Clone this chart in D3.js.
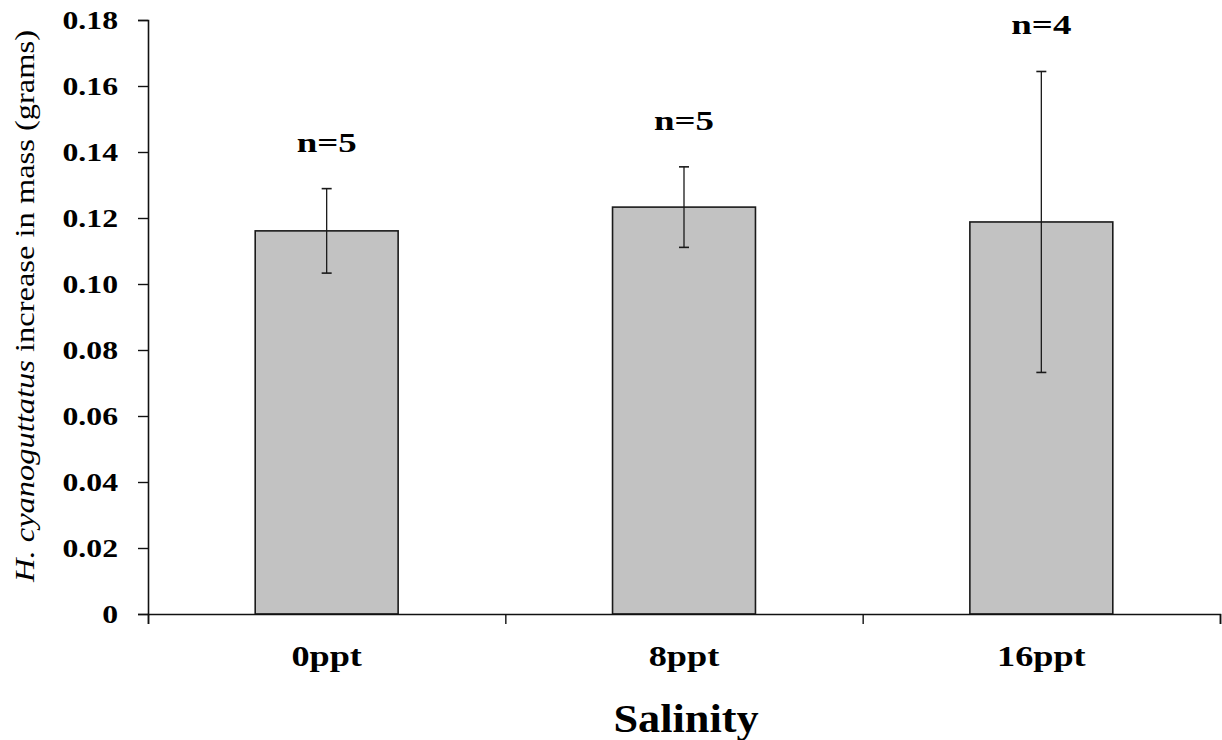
<!DOCTYPE html>
<html>
<head>
<meta charset="utf-8">
<script src="https://cdn.jsdelivr.net/npm/d3@7"></script>
<style>
  body { margin: 0; background: #fff; }
  svg text { font-family: "Liberation Serif", "Times New Roman", serif; }
</style>
</head>
<body>
<div id="chart"></div>
<script>
// data
var categories = ["0ppt", "8ppt", "16ppt"];
var means = [0.1161, 0.1233, 0.1188];
var errors = [0.0128, 0.0122, 0.0456];
var nLabels = ["n=5", "n=5", "n=4"];
var yTicks = [0, 0.02, 0.04, 0.06, 0.08, 0.10, 0.12, 0.14, 0.16, 0.18];

var svgWidth = 1222;
var svgHeight = 740;

var margin = { top: 20, right: 2, bottom: 126, left: 148 };
var width = svgWidth - margin.left - margin.right;
var height = svgHeight - margin.top - margin.bottom;

// the scanned Times in the original is wider than Liberation Serif,
// so scale the glyphs horizontally around the text anchor
function widen(sel, factor) {
  sel.each(function() {
    var t = d3.select(this);
    var x = +t.attr("x") || 0;
    t.attr("x", 0)
      .attr("transform", `translate(${x},0) scale(${factor},1)`);
  });
}

var svg = d3.select("#chart")
  .append("svg")
  .attr("width", svgWidth)
  .attr("height", svgHeight);

var chartGroup = svg.append("g")
  .attr("transform", `translate(${margin.left}, ${margin.top})`);

// scales
var xBand = d3.scaleBand()
  .domain(categories)
  .range([0, width])
  .padding(0);

var xEdges = d3.scaleLinear()
  .domain([0, categories.length])
  .range([0, width]);

var yScale = d3.scaleLinear()
  .domain([0, 0.18])
  .range([height, 0]);

var barWidth = xBand.bandwidth() * 0.4;

// bars
chartGroup.selectAll(".bar")
  .data(means)
  .enter()
  .append("rect")
  .attr("class", "bar")
  .attr("x", (d, i) => xBand(categories[i]) + xBand.bandwidth() / 2 - barWidth / 2)
  .attr("y", d => yScale(d))
  .attr("width", barWidth)
  .attr("height", d => height - yScale(d))
  .attr("fill", "#c2c2c2")
  .attr("stroke", "#1a1a1a")
  .attr("stroke-width", 1.6);

// error bars
var errGroup = chartGroup.selectAll(".err")
  .data(means)
  .enter()
  .append("g")
  .attr("class", "err")
  .attr("transform", (d, i) => `translate(${xBand(categories[i]) + xBand.bandwidth() / 2}, 0)`);

errGroup.append("line")
  .attr("x1", 0).attr("x2", 0)
  .attr("y1", (d, i) => yScale(d + errors[i]))
  .attr("y2", (d, i) => yScale(d - errors[i]))
  .attr("stroke", "#1a1a1a")
  .attr("stroke-width", 1.3);

errGroup.selectAll(".cap")
  .data((d, i) => [d + errors[i], d - errors[i]])
  .enter()
  .append("line")
  .attr("x1", -5).attr("x2", 5)
  .attr("y1", d => yScale(d))
  .attr("y2", d => yScale(d))
  .attr("stroke", "#1a1a1a")
  .attr("stroke-width", 1.6);

// n labels above the error bars
chartGroup.selectAll(".nlab")
  .data(means)
  .enter()
  .append("text")
  .attr("class", "nlab")
  .attr("x", (d, i) => xBand(categories[i]) + xBand.bandwidth() / 2)
  .attr("y", (d, i) => yScale(d + errors[i]) - 37)
  .attr("text-anchor", "middle")
  .attr("font-size", "28px")
  .attr("font-weight", "bold")
  .text((d, i) => nLabels[i])
  .call(widen, 1.32);

// y axis
var leftAxis = d3.axisLeft(yScale)
  .tickValues(yTicks)
  .tickSize(10)
  .tickPadding(20)
  .tickFormat(d => d === 0 ? "0" : d3.format(".2f")(d));

var yAxisG = chartGroup.append("g").call(leftAxis);
yAxisG.select(".domain").attr("stroke", "#111").attr("stroke-width", 1.6);
yAxisG.selectAll(".tick line").attr("stroke", "#111").attr("stroke-width", 1.4);
yAxisG.selectAll(".tick text")
  .attr("font-size", "26px")
  .attr("font-weight", "bold")
  .attr("fill", "#000")
  .attr("font-family", "Liberation Serif")
  .call(widen, 1.22);

// x axis: ticks at category edges
var edgeAxis = d3.axisBottom(xEdges)
  .tickValues(d3.range(categories.length + 1))
  .tickSize(10)
  .tickFormat("");

var xAxisG = chartGroup.append("g")
  .attr("transform", `translate(0, ${height})`)
  .call(edgeAxis);
xAxisG.select(".domain").attr("stroke", "#111").attr("stroke-width", 1.6);
xAxisG.selectAll(".tick line").attr("stroke", "#111").attr("stroke-width", 1.4);

// x category labels
var bottomAxis = d3.axisBottom(xBand)
  .tickSize(0)
  .tickPadding(31);

var xLabG = chartGroup.append("g")
  .attr("transform", `translate(0, ${height})`)
  .call(bottomAxis);
xLabG.select(".domain").remove();
xLabG.selectAll(".tick text")
  .attr("font-size", "29px")
  .attr("font-weight", "bold")
  .attr("fill", "#000")
  .attr("font-family", "Liberation Serif")
  .call(widen, 1.25);

// axis titles
chartGroup.append("text")
  .attr("x", xBand(categories[1]) + xBand.bandwidth() / 2 + 2)
  .attr("y", height + 118)
  .attr("text-anchor", "middle")
  .attr("font-size", "41px")
  .attr("font-weight", "bold")
  .text("Salinity")
  .call(widen, 1.08);

var yTitle = chartGroup.append("text")
  .attr("text-anchor", "middle")
  .attr("font-size", "27px");
yTitle.append("tspan").attr("font-style", "italic").text("H. cyanoguttatus");
yTitle.append("tspan").text(" increase in mass (grams)");
var titleLen = yTitle.node().getComputedTextLength();
yTitle.attr("transform",
  `translate(${-margin.left + 34}, ${height / 2 - 11}) rotate(-90) scale(${552 / titleLen},1)`);
</script>
</body>
</html>
